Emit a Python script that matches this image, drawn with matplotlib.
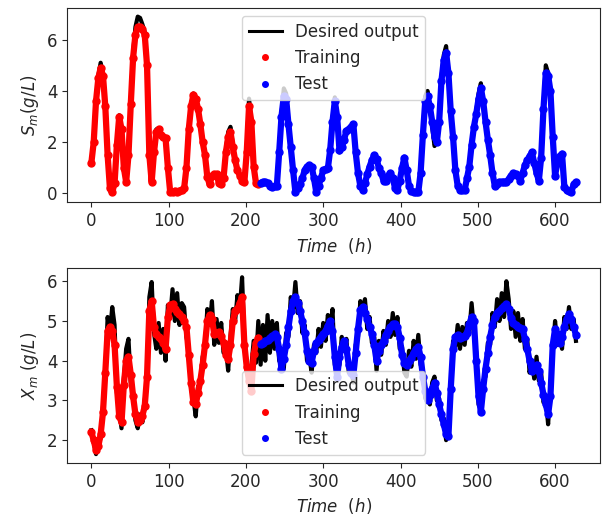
import numpy as np
import matplotlib
matplotlib.use("Agg")
import matplotlib.pyplot as plt

# time grid (h), one sample every 3 h
time_h = np.arange(0, 628, 3)
n_train = 73  # samples 0..216 h are training, the rest test

# S_m : desired output and model output
s_desired = [
    1.2, 2.0, 3.7, 4.6, 5.1, 4.7, 3.4, 1.5, 0.1, 0.0,
    0.4, 1.9, 3.05, 2.5, 1.0, 0.45, 1.5, 3.6, 5.5, 6.5,
    6.9, 6.85, 6.6, 6.3, 5.0, 1.5, 0.45, 1.6, 2.5, 2.55,
    2.3, 2.2, 2.15, 1.0, 0.05, 0.05, 0.1, 0.05, 0.1, 0.15,
    0.2, 1.0, 2.5, 3.4, 3.9, 3.7, 3.3, 2.7, 2.0, 1.5,
    0.65, 0.35, 0.7, 0.75, 0.75, 0.4, 0.35, 0.6, 1.7, 2.4,
    2.6, 1.9, 1.3, 0.9, 0.75, 0.5, 0.45, 1.7, 3.7, 2.8,
    1.05, 0.4, 0.35, 0.4, 0.45, 0.45, 0.4, 0.3, 0.25, 0.3,
    0.3, 1.6, 3.1, 4.1, 3.9, 2.7, 1.8, 0.9, 0.05, 0.2,
    0.35, 0.6, 0.9, 1.05, 1.1, 1.05, 0.6, 0.05, 0.3, 0.6,
    0.9, 0.95, 0.98, 1.7, 2.9, 3.75, 3.0, 1.6, 1.8, 2.1,
    2.45, 2.5, 2.6, 2.75, 1.6, 0.8, 0.3, 0.15, 0.4, 0.75,
    1.05, 1.3, 1.5, 1.35, 1.0, 0.8, 0.5, 0.5, 0.7, 0.78,
    0.6, 0.2, 0.15, 0.5, 1.0, 1.4, 0.9, 0.3, 0.1, 0.05,
    0.05, 0.05, 0.8, 2.4, 3.8, 4.0, 3.4, 2.6, 1.85, 2.0,
    2.8, 4.5, 5.4, 5.75, 4.7, 3.2, 2.2, 0.9, 0.3, 0.13,
    0.13, 0.13, 0.6, 1.05, 1.9, 2.6, 3.2, 3.9, 4.3, 3.6,
    2.8, 2.1, 1.5, 0.8, 0.3, 0.35, 0.45, 0.45, 0.45, 0.45,
    0.55, 0.7, 0.78, 0.75, 0.7, 0.5, 0.8, 1.1, 1.3, 1.45,
    1.6, 1.2, 0.8, 0.5, 1.4, 3.4, 5.0, 4.7, 4.0, 2.2,
    0.7, 1.2, 1.45, 1.55, 0.26, 0.13, 0.08, 0.05, 0.35, 0.45,
]
s_model = [
    1.2, 2.0, 3.6, 4.5, 4.9, 4.6, 3.4, 1.5, 0.2, 0.05,
    0.4, 1.9, 3.0, 2.5, 1.0, 0.45, 1.5, 3.5, 5.3, 6.2,
    6.5, 6.5, 6.4, 6.2, 5.0, 1.5, 0.45, 1.6, 2.4, 2.5,
    2.3, 2.2, 2.15, 1.0, 0.05, 0.05, 0.1, 0.05, 0.1, 0.15,
    0.2, 1.0, 2.5, 3.4, 3.85, 3.7, 3.3, 2.7, 2.0, 1.5,
    0.65, 0.35, 0.7, 0.75, 0.75, 0.4, 0.35, 0.6, 1.6, 2.2,
    2.4, 1.8, 1.3, 0.9, 0.7, 0.5, 0.45, 1.6, 3.4, 2.8,
    1.05, 0.4, 0.35, 0.4, 0.45, 0.45, 0.4, 0.3, 0.25, 0.3,
    0.3, 1.6, 3.0, 3.8, 3.7, 2.7, 1.8, 0.9, 0.05, 0.2,
    0.35, 0.6, 0.9, 1.05, 1.1, 1.05, 0.6, 0.05, 0.3, 0.6,
    0.9, 0.95, 0.98, 1.7, 2.8, 3.6, 3.0, 1.7, 1.8, 2.1,
    2.45, 2.5, 2.6, 2.7, 1.6, 0.8, 0.3, 0.15, 0.4, 0.75,
    1.05, 1.3, 1.5, 1.35, 1.0, 0.8, 0.5, 0.5, 0.7, 0.78,
    0.6, 0.2, 0.15, 0.5, 1.0, 1.4, 0.9, 0.3, 0.1, 0.05,
    0.05, 0.05, 0.8, 2.3, 3.6, 3.8, 3.4, 2.8, 2.2, 2.0,
    2.8, 4.4, 5.2, 5.5, 4.7, 3.2, 2.2, 0.9, 0.3, 0.13,
    0.13, 0.13, 0.6, 1.05, 1.9, 2.6, 3.1, 3.7, 4.1, 3.6,
    2.8, 2.1, 1.5, 0.8, 0.3, 0.35, 0.45, 0.45, 0.45, 0.45,
    0.55, 0.7, 0.78, 0.75, 0.7, 0.5, 0.8, 1.1, 1.3, 1.45,
    1.6, 1.2, 0.8, 0.5, 1.4, 3.3, 4.7, 4.6, 4.0, 2.2,
    0.7, 1.2, 1.45, 1.55, 0.26, 0.13, 0.08, 0.05, 0.35, 0.45,
]

# X_m : desired output (noisy) and model output
x_desired = [
    2.25, 1.95, 1.65, 1.9, 2.05, 2.85, 3.6, 5.1, 4.7, 5.35,
    4.9, 3.2, 2.75, 2.3, 3.55, 4.3, 4.55, 3.45, 3.2, 2.5,
    2.3, 2.65, 2.45, 3.0, 3.5, 5.6, 5.98, 4.7, 4.3, 4.95,
    4.2, 4.8, 4.0, 5.4, 5.1, 5.8, 5.0, 5.7, 4.9, 5.45,
    5.35, 4.6, 4.3, 3.3, 3.05, 2.6, 3.35, 3.4, 4.1, 4.3,
    5.3, 4.9, 5.5, 4.4, 5.05, 4.45, 4.95, 4.2, 4.3, 3.75,
    4.6, 5.3, 5.0, 5.65, 5.3, 6.1, 4.5, 3.9, 3.7, 3.85,
    4.5, 3.95, 5.0, 3.9, 4.9, 4.0, 5.15, 4.2, 5.0, 4.3,
    4.95, 4.0, 3.9, 3.8, 4.7, 4.6, 5.6, 5.3, 5.98, 5.2,
    5.5, 4.7, 4.9, 4.0, 4.1, 3.7, 4.4, 4.2, 4.8, 4.35,
    4.95, 4.5, 5.15, 4.8, 5.3, 3.9, 3.7, 3.9, 4.6, 4.25,
    4.55, 3.7, 3.85, 3.45, 4.4, 4.6, 5.5, 5.25, 5.55, 4.8,
    5.1, 4.45, 4.6, 3.75, 4.5, 4.15, 4.75, 4.4, 5.0, 4.6,
    5.2, 4.65, 5.1, 4.3, 4.35, 3.7, 3.6, 4.25, 3.85, 4.5,
    4.05, 4.65, 3.9, 3.75, 3.05, 3.15, 2.9, 3.45, 3.6, 3.0,
    3.05, 2.5, 2.55, 2.0, 2.15, 3.1, 4.5, 4.35, 4.9, 4.3,
    4.85, 4.4, 4.95, 4.7, 5.45, 4.8, 4.2, 2.9, 2.8, 3.5,
    3.6, 4.45, 4.4, 5.2, 4.85, 5.55, 5.0, 5.7, 5.1, 6.0,
    5.55, 4.8, 5.25, 4.6, 5.2, 4.5, 5.05, 4.3, 4.55, 3.7,
    4.0, 3.55, 4.1, 3.5, 3.7, 2.95, 3.05, 2.4, 3.3, 4.2,
    5.0, 4.4, 4.7, 4.3, 5.1, 4.8, 5.35, 4.8, 5.05, 4.5,
]
x_model = [
    2.2, 2.0, 1.75, 1.85, 2.15, 2.7, 3.7, 4.75, 4.85, 4.75,
    4.4, 3.35, 2.6, 2.45, 3.4, 4.0, 4.1, 3.65, 3.1, 2.65,
    2.47, 2.5, 2.62, 2.85, 3.6, 5.26, 5.5, 4.85, 4.66, 4.6,
    4.55, 4.45, 4.3, 5.1, 5.4, 5.42, 5.3, 5.22, 5.17, 5.1,
    5.0, 4.85, 4.15, 3.45, 2.95, 2.9, 3.2, 3.5, 3.9, 4.4,
    5.0, 5.15, 5.05, 4.67, 4.7, 4.72, 4.62, 4.45, 4.15, 4.05,
    4.4, 5.0, 5.26, 5.3, 5.45, 5.6, 4.4, 3.85, 3.5, 3.25,
    4.16, 4.45, 4.58, 4.42, 4.45, 4.5, 4.52, 4.58, 4.62, 4.66,
    4.6, 4.3, 3.8, 4.05, 4.4, 4.84, 5.25, 5.5, 5.6, 5.45,
    5.26, 5.0, 4.7, 4.25, 4.0, 3.95, 4.25, 4.45, 4.52, 4.6,
    4.68, 4.75, 4.88, 5.0, 4.75, 4.1, 3.6, 4.1, 4.35, 4.5,
    4.3, 3.9, 3.7, 3.65, 4.2, 4.8, 5.28, 5.35, 5.2, 5.05,
    4.85, 4.68, 4.4, 4.0, 4.25, 4.4, 4.5, 4.65, 4.75, 4.85,
    4.92, 4.92, 4.85, 4.58, 4.15, 3.95, 3.9, 4.0, 4.08, 4.2,
    4.29, 4.35, 4.1, 3.6, 3.25, 3.0, 3.15, 3.3, 3.45, 3.2,
    2.9, 2.65, 2.4, 2.15, 2.1, 3.3, 4.3, 4.6, 4.65, 4.58,
    4.6, 4.62, 4.7, 4.92, 5.1, 5.0, 4.0, 3.1, 2.72, 3.3,
    3.8, 4.2, 4.6, 4.9, 5.1, 5.2, 5.26, 5.32, 5.38, 5.42,
    5.3, 5.08, 4.95, 4.9, 4.85, 4.82, 4.8, 4.55, 4.3, 4.0,
    3.75, 3.85, 3.9, 3.75, 3.45, 3.15, 2.9, 2.65, 3.1, 4.4,
    4.8, 4.67, 4.45, 4.6, 4.85, 5.05, 5.18, 5.05, 4.85, 4.65,
]

plt.rcParams['font.size'] = 12
for key in ['text.color', 'axes.labelcolor', 'xtick.color', 'ytick.color', 'axes.edgecolor']:
    plt.rcParams[key] = '#262626'


def draw_panel(ax, desired, model, ylabel, legend_loc):
    desired = np.array(desired)
    model = np.array(model)
    t_tr, t_te = time_h[:n_train], time_h[n_train:]
    ax.plot(time_h, desired, color='k', lw=3, label='Desired output')
    ax.plot(t_tr, model[:n_train], color='r', lw=4.5, solid_capstyle='round')
    ax.plot(t_te, model[n_train:], color='b', lw=4.5, solid_capstyle='round')
    ax.plot(t_tr, model[:n_train], 'o', color='r', ms=5, label='Training')
    ax.plot(t_te, model[n_train:], 'o', color='b', ms=5, label='Test')
    ax.set_xlabel(r'$Time\ \ (h)$')
    ax.set_ylabel(ylabel)
    leg = ax.legend(loc=legend_loc, markerscale=0.8)
    leg.get_lines()[0].set_linewidth(2.2)


fig, (ax1, ax2) = plt.subplots(2, 1, figsize=(6.05, 5.19), dpi=100)
fig.subplots_adjust(left=0.111, right=0.992, top=0.985, bottom=0.108, hspace=0.34)

draw_panel(ax1, s_desired, s_model, r'$S_m(g/L)$', 'upper center')
draw_panel(ax2, x_desired, x_model, r'$X_m\ (g/L)$', 'lower center')

fig.savefig('out.png', dpi=100)
